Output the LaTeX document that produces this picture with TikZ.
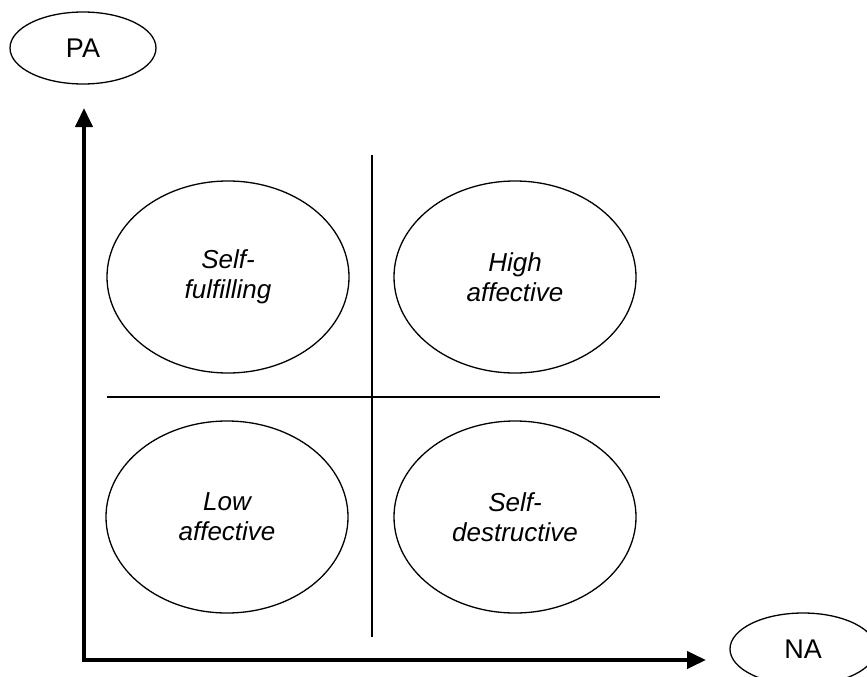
\documentclass[tikz,border=0pt]{standalone}
\usepackage{fontspec}
\setmainfont{Liberation Sans}
\usetikzlibrary{shapes.geometric,arrows.meta}
\begin{document}
\begin{tikzpicture}[x=1pt,y=-1pt,
  quad/.style={draw, ellipse, line width=1.3pt, minimum width=242pt, minimum height=192pt, inner sep=0pt, align=center, font=\fontsize{26}{30}\selectfont\itshape},
  axlabel/.style={draw, ellipse, line width=1.3pt, minimum width=146pt, minimum height=72pt, inner sep=0pt, font=\fontsize{27}{32}\selectfont},
  divider/.style={line width=1.5pt},
  axisline/.style={line width=4pt, line join=miter, {Triangle[length=19pt,width=17pt]}-{Triangle[length=19pt,width=17pt]}}]
\useasboundingbox (0,0) rectangle (867,677);
% axis labels
\node[axlabel] (pa) at (83,48) {PA};
\node[axlabel] (na) at (803,649) {NA};
% axes
\coordinate (O) at (84,660);
\coordinate (ytip) at (84,108);
\coordinate (xtip) at (706,660);
\draw[axisline] (ytip) -- (O) -- (xtip);
% dividers
\coordinate (vtop) at (372,155);
\coordinate (vbot) at (372,637);
\coordinate (hl) at (107,397);
\coordinate (hr) at (660,397);
\draw[divider] (vtop) -- (vbot);
\draw[divider] (hl) -- (hr);
% quadrants
\node[quad] (sf) at (228,277) {Self-\\fulfilling};
\node[quad] (ha) at (515,277) {High\\affective};
\node[quad] (la) at (227,517) {Low\\affective};
\node[quad] (sd) at (515,517) {Self-\\destructive};
\end{tikzpicture}
\end{document}
